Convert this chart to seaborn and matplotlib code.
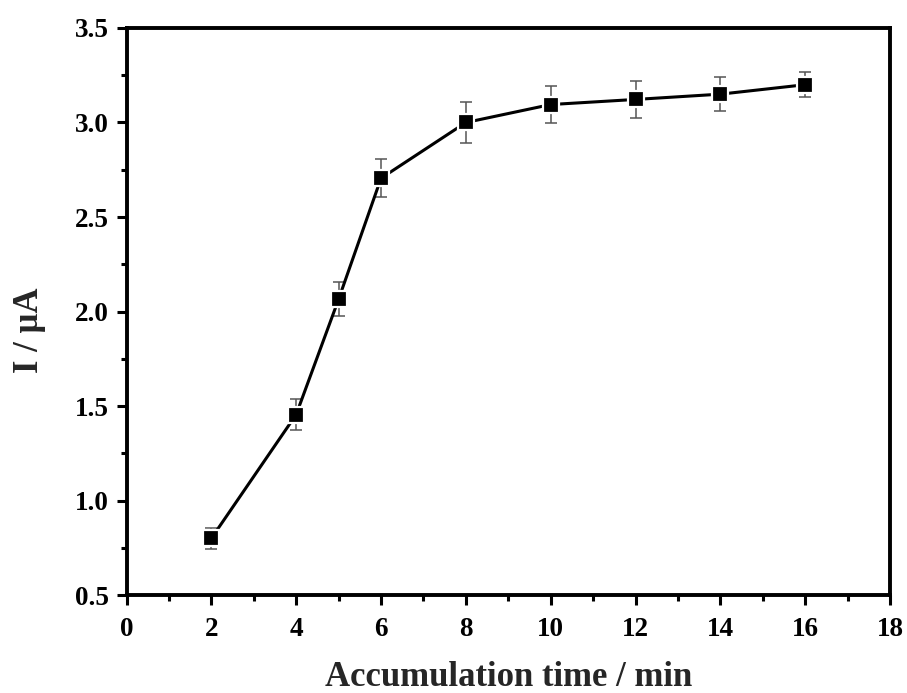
import numpy as np
import pandas as pd
import seaborn as sns
import matplotlib.pyplot as plt
from matplotlib.ticker import MultipleLocator

time_min = [2, 4, 5, 6, 8, 10, 12, 14, 16]
current_ua = [0.80, 1.455, 2.065, 2.705, 3.00, 3.095, 3.122, 3.15, 3.20]
current_err = [0.057, 0.083, 0.09, 0.10, 0.106, 0.10, 0.098, 0.09, 0.065]

sns.set_style('ticks')
plt.rcParams['font.family'] = ['Liberation Serif', 'DejaVu Serif']
plt.rcParams['font.weight'] = 'bold'

data = pd.DataFrame({'time': time_min, 'current': current_ua, 'err': current_err})

fig = plt.figure(figsize=(9.07, 6.93), dpi=100)
ax = fig.add_axes([0.1395, 0.1414, 0.8418, 0.8182])

ax.errorbar(data['time'], data['current'], yerr=data['err'], fmt='none',
            ecolor='#555555', elinewidth=1.1, capsize=4.3, capthick=1.1, zorder=2)
sns.lineplot(x='time', y='current', data=data, ax=ax, color='black', linewidth=2.2,
             marker='s', markersize=11, markerfacecolor='black',
             markeredgecolor='white', markeredgewidth=1.6, zorder=3)

ax.set_xlim(0, 18)
ax.set_ylim(0.5, 3.5)
ax.xaxis.set_major_locator(MultipleLocator(2))
ax.xaxis.set_minor_locator(MultipleLocator(1))
ax.yaxis.set_major_locator(MultipleLocator(0.5))
ax.yaxis.set_minor_locator(MultipleLocator(0.25))
ax.set_yticks(np.arange(0.5, 3.51, 0.5))
ax.set_yticklabels([f'{v:.1f}' for v in np.arange(0.5, 3.51, 0.5)])

for s in ax.spines.values():
    s.set_linewidth(2.8)
    s.set_color('black')
ax.tick_params(which='major', direction='out', length=7.5, width=2.2, labelsize=19.5,
               pad=5, color='black', labelcolor='black')
ax.tick_params(axis='x', which='major', pad=8)
ax.tick_params(which='minor', direction='out', length=4.3, width=2.2, color='black')
for lbl in ax.get_xticklabels() + ax.get_yticklabels():
    lbl.set_fontweight('bold')

ax.set_xlabel('Accumulation time / min', fontsize=25, fontweight='bold')
ax.set_ylabel('I / \u03bcA', fontsize=25, fontweight='bold')
ax.xaxis.set_label_coords(0.501, -0.117)
ax.yaxis.set_label_coords(-0.105, 0.467)

fig.savefig('out.png', dpi=100)
